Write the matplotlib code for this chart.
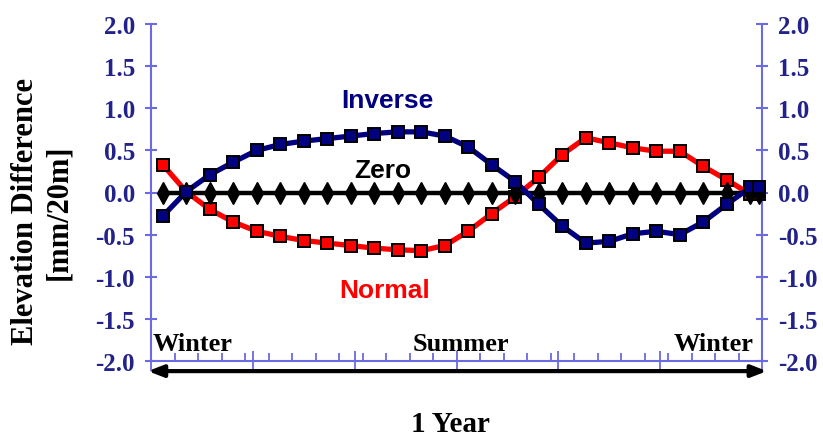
import matplotlib
matplotlib.use("Agg")
import matplotlib.pyplot as plt
from matplotlib.ticker import FixedLocator, MultipleLocator

# ---- data ----
x_pos = [0.5, 1.5, 2.5, 3.5, 4.5, 5.5, 6.5, 7.5, 8.5, 9.5, 10.5, 11.5, 12.5,
         13.5, 14.5, 15.5, 16.5, 17.5, 18.5, 19.5, 20.5, 21.5, 22.5, 23.5,
         24.5, 25.5, 25.87]
normal = [0.33, 0.01, -0.20, -0.35, -0.46, -0.52, -0.57, -0.60, -0.63, -0.66,
          -0.68, -0.69, -0.63, -0.46, -0.25, -0.05, 0.18, 0.45, 0.65, 0.59,
          0.53, 0.49, 0.49, 0.31, 0.15, -0.02, -0.02]
inverse = [-0.28, 0.01, 0.21, 0.36, 0.50, 0.57, 0.61, 0.64, 0.67, 0.70,
           0.72, 0.72, 0.67, 0.54, 0.33, 0.13, -0.14, -0.40, -0.60, -0.58,
           -0.49, -0.46, -0.50, -0.35, -0.14, 0.06, 0.06]
zero = [0.0] * 27
y_ticks = [-2.0, -1.5, -1.0, -0.5, 0.0, 0.5, 1.0, 1.5, 2.0]
x_major = [0, 26/6, 2*26/6, 3*26/6, 4*26/6, 5*26/6, 26]
season_labels = ["Winter", "Summer", "Winter"]

AX_COL = "#6a6ae2"
LBL_COL = "#22228a"
NAVY = "#000080"
RED = "#ff0000"

fig = plt.figure(figsize=(8.23, 4.39), dpi=100)
ax = fig.add_axes([151/823, 1-362/439, (762-151)/823, (362-25)/439])

ax.plot(x_pos, normal, color=RED, lw=3.8, marker="s", ms=8.5, mfc=RED,
        mec="black", mew=1.4, zorder=3, clip_on=False, solid_capstyle="round")
ax.plot(x_pos, zero, color="black", lw=3.2, marker="d", ms=11, mfc="black",
        mec="black", mew=1.0, zorder=4, clip_on=False)
ax.plot(x_pos, inverse, color=NAVY, lw=3.8, marker="s", ms=8.5, mfc=NAVY,
        mec="black", mew=1.4, zorder=5, clip_on=False, solid_capstyle="round")

ax.set_xlim(0, 26)
ax.set_ylim(-2.0, 2.0)

ax.spines["top"].set_visible(False)
for s in ["left", "right", "bottom"]:
    ax.spines[s].set_color(AX_COL)
    ax.spines[s].set_linewidth(1.5)

ax.yaxis.set_major_locator(FixedLocator(y_ticks))
ax.set_yticklabels([f"{v:.1f}" for v in y_ticks])
ax.tick_params(axis="y", which="major", direction="inout", length=9, width=1.5,
               color=AX_COL, left=True, right=True, labelleft=True,
               labelright=True, pad=7)
for lab in ax.get_yticklabels():
    lab.set_fontfamily("Liberation Serif")
    lab.set_fontweight("bold")
    lab.set_fontsize(18)
    lab.set_color(LBL_COL)

ax.xaxis.set_major_locator(FixedLocator(x_major))
ax.xaxis.set_minor_locator(MultipleLocator(1))
ax.tick_params(axis="x", which="major", direction="inout", length=14, width=1.3,
               color=AX_COL, labelbottom=False)
ax.tick_params(axis="x", which="minor", direction="in", length=6, width=1.3,
               color=AX_COL)

# season labels
ax.text(0.05, -1.93, season_labels[0], ha="left", va="bottom",
        fontfamily="Liberation Serif", fontweight="bold", fontsize=19)
ax.text(13.2, -1.93, season_labels[1], ha="center", va="bottom",
        fontfamily="Liberation Serif", fontweight="bold", fontsize=19)
ax.text(25.65, -1.93, season_labels[2], ha="right", va="bottom",
        fontfamily="Liberation Serif", fontweight="bold", fontsize=19)

# series labels
ax.text(10.05, 1.10, "Inverse", ha="center", va="center", color=NAVY,
        fontfamily="Liberation Sans", fontweight="bold", fontsize=19)
ax.text(9.85, 0.27, "Zero", ha="center", va="center", color="black",
        fontfamily="Liberation Sans", fontweight="bold", fontsize=19)
ax.text(9.95, -1.16, "Normal", ha="center", va="center", color=RED,
        fontfamily="Liberation Sans", fontweight="bold", fontsize=19)

# arrow under axis
ax.annotate("", xy=(1.008, -0.03), xytext=(-0.005, -0.03),
            xycoords="axes fraction", textcoords="axes fraction",
            arrowprops=dict(arrowstyle="<|-|>,head_length=0.9,head_width=0.35",
                            lw=3, color="black", shrinkA=0, shrinkB=0))

fig.text(42/823, 1-212/439, "Elevation Difference\n[mm/20m]", rotation=90,
         ha="center", va="center", fontfamily="Liberation Serif",
         fontweight="bold", fontsize=22, linespacing=1.2)
fig.text(450/823, 1-425/439, "1 Year", ha="center", va="center",
         fontfamily="Liberation Serif", fontweight="bold", fontsize=21)

fig.savefig("out.png", dpi=100)
